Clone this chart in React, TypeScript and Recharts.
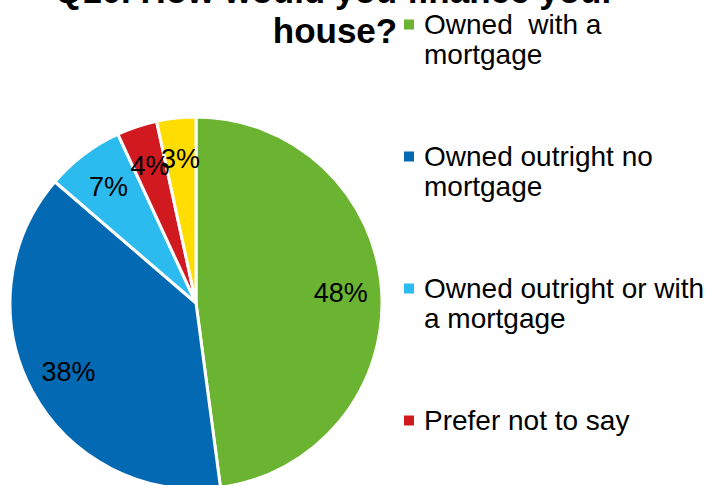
import React from "react";
import { Cell, Pie, PieChart } from "recharts";

const categories = [
  "Owned  with a mortgage",
  "Owned outright no mortgage",
  "Owned outright or with a mortgage",
  "Prefer not to say",
  "Don't know",
];
const shares = [47.9, 38.4, 6.8, 3.5, 3.4];
const colors = ["#6BB431", "#0369B3", "#2BBBEE", "#D01A20", "#FFDD00"];
// legend lines as they wrap in the original (last item falls below the picture)
const legendLines = [
  ["Owned  with a", "mortgage"],
  ["Owned outright no", "mortgage"],
  ["Owned outright or with", "a mortgage"],
  ["Prefer not to say"],
];
const titleLines = ["Q10. How would you finance your", "house?"];

const data = categories.map((name, i) => ({ name, value: shares[i] }));

const FONT = "'Liberation Sans', Arial, Helvetica, sans-serif";
const RADIAN = Math.PI / 180;

function renderLabel(props: any) {
  const { cx, cy, midAngle, percent } = props;
  const r = 145;
  const x = cx + r * Math.cos(-midAngle * RADIAN);
  const y = cy + r * Math.sin(-midAngle * RADIAN);
  return (
    <text
      x={x}
      y={y}
      fill="#000"
      fontSize={27}
      fontFamily={FONT}
      textAnchor="middle"
      dominantBaseline="central"
    >
      {`${Math.round(percent * 100)}%`}
    </text>
  );
}

export default function App() {
  return (
    <div
      style={{
        position: "fixed",
        top: 0,
        left: 0,
        width: 720,
        height: 485,
        background: "#fff",
        overflow: "hidden",
      }}
    >
      <PieChart width={720} height={485} margin={{ top: 0, right: 0, bottom: 0, left: 0 }}>
        <Pie
          data={data}
          dataKey="value"
          nameKey="name"
          cx={196}
          cy={303}
          outerRadius={186}
          startAngle={90}
          endAngle={-270}
          stroke="#fff"
          strokeWidth={3}
          label={renderLabel}
          labelLine={false}
          isAnimationActive={false}
        >
          {data.map((d, i) => (
            <Cell key={d.name} fill={colors[i]} />
          ))}
        </Pie>
      </PieChart>
      <svg
        width={720}
        height={485}
        style={{ position: "absolute", top: 0, left: 0, pointerEvents: "none" }}
      >
        {titleLines.map((line, i) => (
          <text
            key={line}
            x={335}
            y={3 + i * 40}
            textAnchor="middle"
            fontFamily={FONT}
            fontWeight="bold"
            fontSize={35}
            fill="#000"
          >
            {line}
          </text>
        ))}
        {legendLines.map((lines, i) => {
          const cy = 24.5 + i * 132;
          return (
            <g key={i}>
              <rect x={404} y={cy - 5} width={10} height={10} fill={colors[i]} />
              {lines.map((t, j) => (
                <text
                  key={t}
                  x={424}
                  y={cy + 9.5 + j * 30}
                  fontFamily={FONT}
                  fontSize={28}
                  fill="#000"
                  style={{ whiteSpace: "pre" }}
                >
                  {t}
                </text>
              ))}
            </g>
          );
        })}
      </svg>
    </div>
  );
}
